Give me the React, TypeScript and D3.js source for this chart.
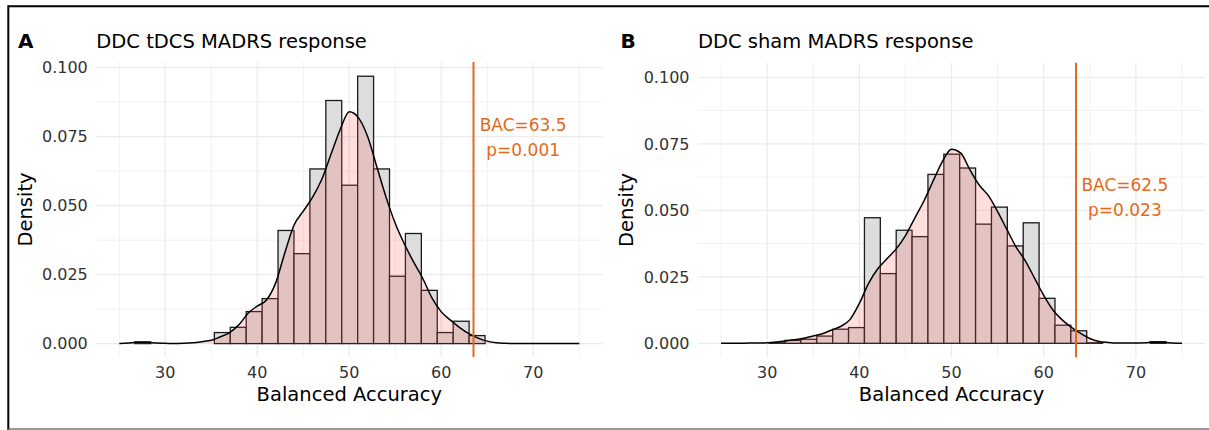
import React from "react";
import * as d3 from "d3";

// ---------- data ----------
const densityX = [25, 26, 27, 28, 29, 30, 31, 32, 33, 34, 35, 36, 37, 38, 39, 40, 41, 42, 43, 44, 45, 46, 47, 48, 49, 50, 51, 52, 53, 54, 55, 56, 57, 58, 59, 60, 61, 62, 63, 64, 65, 66, 67, 68, 69, 70, 71, 72, 73, 74, 75];

const densityA = [0, 0.0002, 0.0005, 0.0005, 0.0002, 0.0001, 0, 0.0001, 0.0003, 0.0007, 0.0012, 0.0025, 0.004, 0.0068, 0.011, 0.0136, 0.0158, 0.022, 0.033, 0.043, 0.048, 0.053, 0.0595, 0.0685, 0.0775, 0.084, 0.0818, 0.075, 0.064, 0.053, 0.0435, 0.036, 0.0295, 0.0235, 0.0165, 0.0115, 0.0085, 0.0058, 0.0036, 0.002, 0.0009, 0.0003, 0.0001, 0, 0, 0, 0, 0, 0, 0, 0];

const densityB = [0, 0, 0, 0.0001, 0.0001, 0.0002, 0.0005, 0.0009, 0.0013, 0.0019, 0.0027, 0.0036, 0.005, 0.0064, 0.009, 0.015, 0.0225, 0.028, 0.0318, 0.0355, 0.0405, 0.047, 0.0535, 0.061, 0.0683, 0.073, 0.0715, 0.0652, 0.0595, 0.0555, 0.0495, 0.0428, 0.0362, 0.031, 0.0245, 0.018, 0.0125, 0.0088, 0.006, 0.0037, 0.0018, 0.0007, 0.0003, 0.0001, 0.0001, 0.0001, 0.0002, 0.0004, 0.0003, 0.0001, 0];

const binStartA = 26.68;
const binWidthA = 1.7306;
const histA = [0.0006, 0, 0, 0, 0, 0.004, 0.0059, 0.0116, 0.0163, 0.041, 0.0326, 0.0633, 0.0881, 0.0574, 0.0969, 0.0633, 0.0244, 0.0399, 0.0193, 0.004, 0.0081, 0.0029];

const binStartB = 30.22;
const binWidthB = 1.722;
const histB = [0.0002, 0.0011, 0.0015, 0.0027, 0.0053, 0.0059, 0.0472, 0.0262, 0.0425, 0.0401, 0.0635, 0.0711, 0.0659, 0.0448, 0.0512, 0.0366, 0.0453, 0.0169, 0.0068, 0.0047, 0.0002, 0, 0, 0, 0.0006];

const observedA = 63.5;
const observedB = 63.5;
const labelA = ["BAC=63.5", "p=0.001"];
const labelB = ["BAC=62.5", "p=0.023"];
const titleA = "DDC tDCS MADRS response";
const titleB = "DDC sham MADRS response";

const xTicks = [30, 40, 50, 60, 70];
const xMinor = [25, 35, 45, 55, 65, 75];
const yTicks = [0, 0.025, 0.05, 0.075, 0.1];
const yMinor = [0.0125, 0.0375, 0.0625, 0.0875];

// ---------- style ----------
const FONT = "'DejaVu Sans', sans-serif";
const ORANGE = "#E4691B";

type PanelProps = {
  tag: string;
  title: string;
  hist: number[];
  binStart: number;
  binWidth: number;
  density: number[];
  observed: number;
  label: string[];
  left: number;
  right: number;
  top: number;
  bottom: number;
  yDomain: [number, number];
  labelPos: [number, number, number];
  tagX: number;
  ylabX: number;
};

function Panel(p: PanelProps) {
  const x = d3.scaleLinear().domain([22.5, 77.5]).range([p.left, p.right]);
  const y = d3.scaleLinear().domain(p.yDomain).range([p.bottom, p.top]);
  const fmt = d3.format(".3f");
  const pts = densityX.map((v, i) => [v, p.density[i]] as [number, number]);
  const area = d3
    .area<[number, number]>()
    .x((d) => x(d[0]))
    .y0(y(0))
    .y1((d) => y(d[1]))
    .curve(d3.curveMonotoneX);
  const line = d3
    .line<[number, number]>()
    .x((d) => x(d[0]))
    .y((d) => y(d[1]))
    .curve(d3.curveMonotoneX);
  const cx = (p.left + p.right) / 2;
  const cy = (p.top + p.bottom) / 2;
  return (
    <g>
      {/* grid */}
      {yMinor.map((v) => (
        <line key={"ym" + v} x1={p.left} x2={p.right} y1={y(v)} y2={y(v)} stroke="#efefef" strokeWidth={0.9} />
      ))}
      {xMinor.map((v) => (
        <line key={"xm" + v} x1={x(v)} x2={x(v)} y1={p.top} y2={p.bottom} stroke="#efefef" strokeWidth={0.9} />
      ))}
      {yTicks.map((v) => (
        <line key={"y" + v} x1={p.left} x2={p.right} y1={y(v)} y2={y(v)} stroke="#ebebeb" strokeWidth={1.3} />
      ))}
      {xTicks.map((v) => (
        <line key={"x" + v} x1={x(v)} x2={x(v)} y1={p.top} y2={p.bottom} stroke="#ebebeb" strokeWidth={1.3} />
      ))}
      {/* histogram */}
      {p.hist.map((h, i) => {
        const x0 = p.binStart + i * p.binWidth;
        return (
          <rect
            key={"b" + i}
            x={x(x0)}
            width={x(x0 + p.binWidth) - x(x0)}
            y={y(h)}
            height={y(0) - y(h)}
            fill="#dddddd"
            stroke="#1a1a1a"
            strokeWidth={1.3}
          />
        );
      })}
      {/* density */}
      <path d={area(pts) || ""} fill="#ff5a5a" fillOpacity={0.2} />
      <path d={line(pts) || ""} fill="none" stroke="#000" strokeWidth={1.5} />
      {/* observed */}
      <line x1={x(p.observed)} x2={x(p.observed)} y1={p.top} y2={p.bottom} stroke={ORANGE} strokeWidth={2} />
      <text x={x(p.labelPos[0])} y={y(p.labelPos[1])} textAnchor="middle" fontFamily={FONT} fontSize={17} fill={ORANGE}>
        {p.label[0]}
      </text>
      <text x={x(p.labelPos[0])} y={y(p.labelPos[2])} textAnchor="middle" fontFamily={FONT} fontSize={17} fill={ORANGE}>
        {p.label[1]}
      </text>
      {/* axes labels */}
      {yTicks.map((v) => (
        <text key={"yl" + v} x={p.left - 8.5} y={y(v) + 5.8} textAnchor="end" fontFamily={FONT} fontSize={16} fill="#333">
          {fmt(v)}
        </text>
      ))}
      {xTicks.map((v) => (
        <text key={"xl" + v} x={x(v)} y={378} textAnchor="middle" fontFamily={FONT} fontSize={16} fill="#333">
          {v}
        </text>
      ))}
      <text x={cx} y={401} textAnchor="middle" fontFamily={FONT} fontSize={19.5} fill="#000">
        Balanced Accuracy
      </text>
      <text transform={`translate(${p.ylabX},${cy}) rotate(-90)`} textAnchor="middle" fontFamily={FONT} fontSize={19.5} fill="#000">
        Density
      </text>
      <text x={p.left} y={48} fontFamily={FONT} fontSize={19.5} fill="#000">
        {p.title}
      </text>
      <text x={p.tagX} y={48} fontFamily={FONT} fontSize={20} fontWeight="bold" fill="#000">
        {p.tag}
      </text>
    </g>
  );
}

export default function App() {
  return (
    <svg
      width={1209}
      height={430}
      style={{ position: "absolute", left: 0, top: 0, background: "#fff" }}
    >
      <rect x={0} y={0} width={1209} height={430} fill="#fff" />
      <Panel
        tag="A"
        title={titleA}
        hist={histA}
        binStart={binStartA}
        binWidth={binWidthA}
        density={densityA}
        observed={observedA}
        label={labelA}
        left={96.3}
        right={602.3}
        top={62}
        bottom={357}
        yDomain={[-0.00486, 0.10206]}
        labelPos={[68.9, 0.077, 0.068]}
        tagX={18}
        ylabX={32}
      />
      <Panel
        tag="B"
        title={titleB}
        hist={histB}
        binStart={binStartB}
        binWidth={binWidthB}
        density={densityB}
        observed={observedB}
        label={labelB}
        left={698}
        right={1205.1}
        top={62.7}
        bottom={357.3}
        yDomain={[-0.00527, 0.1055]}
        labelPos={[68.8, 0.0574, 0.048]}
        tagX={620.5}
        ylabX={633}
      />
      {/* figure border */}
      <line x1={8.3} x2={1209} y1={6.3} y2={6.3} stroke="#000" strokeWidth={2} />
      <line x1={8.3} x2={8.3} y1={5.3} y2={430} stroke="#000" strokeWidth={2} />
      <line x1={8.3} x2={1209} y1={429} y2={429} stroke="#777" strokeWidth={1.5} />
    </svg>
  );
}
